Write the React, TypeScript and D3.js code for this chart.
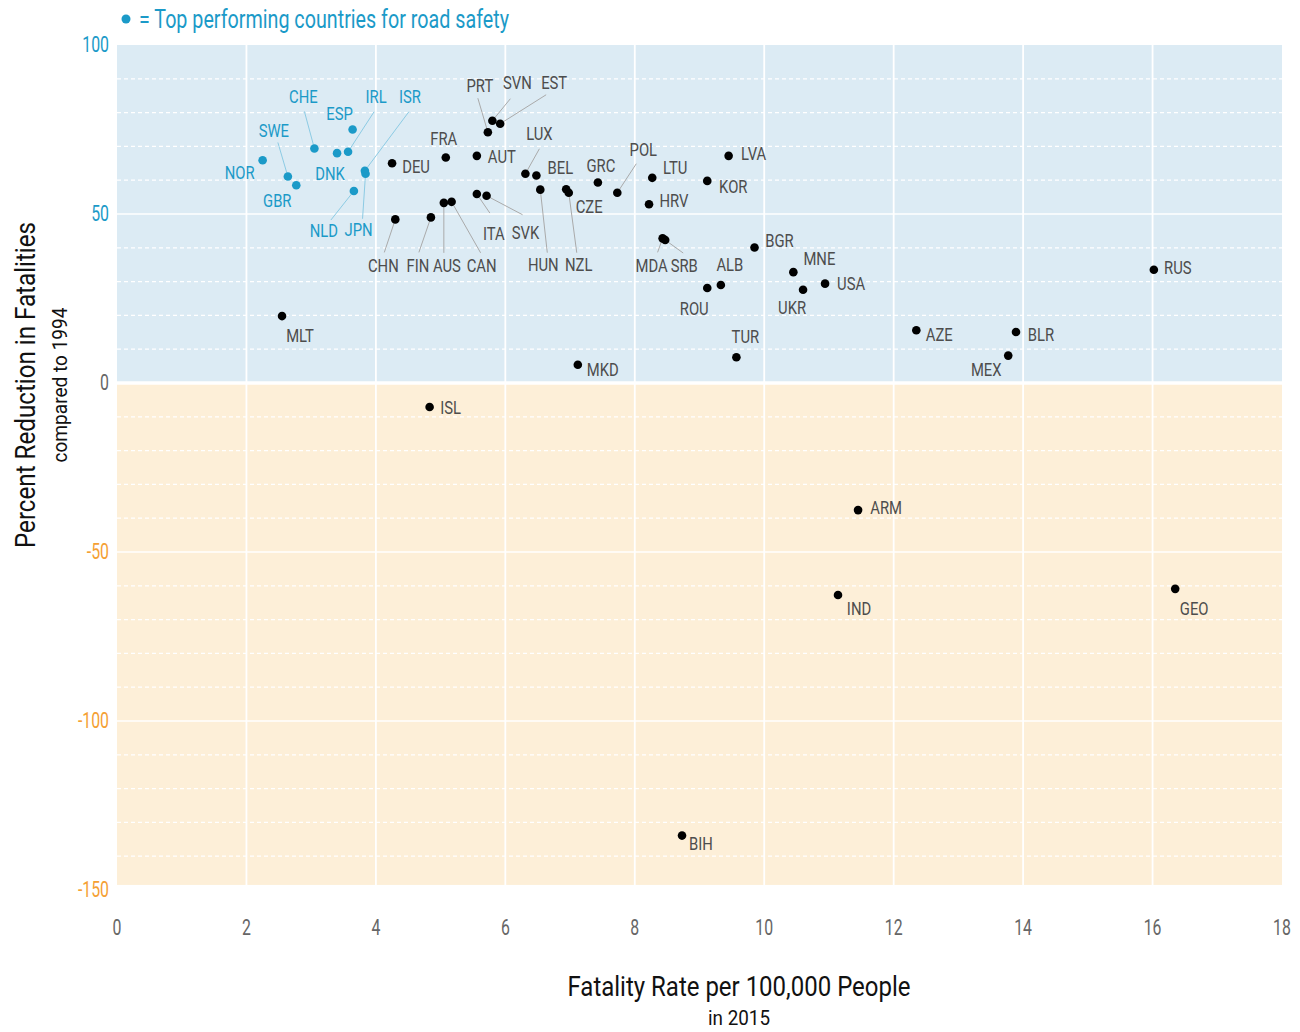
import React from 'react';
import * as d3 from 'd3';

// country codes, fatality rate per 100k (2015), % reduction in fatalities vs 1994
const countries = [
  'NOR', 'SWE', 'GBR', 'CHE', 'DNK', 'IRL', 'ESP', 'NLD', 'ISR', 'JPN',
  'PRT', 'SVN', 'EST', 'FRA', 'AUT', 'DEU', 'LUX', 'BEL', 'GRC', 'CZE',
  'HUN', 'NZL', 'POL', 'LTU', 'HRV', 'LVA', 'KOR', 'ITA', 'SVK', 'CHN',
  'FIN', 'AUS', 'CAN', 'MDA', 'SRB', 'BGR', 'ALB', 'ROU', 'MNE', 'UKR',
  'USA', 'TUR', 'MLT', 'MKD', 'ISL', 'RUS', 'AZE', 'BLR', 'MEX', 'ARM',
  'IND', 'GEO', 'BIH',
];
const fatalityRate = [
  2.25, 2.64, 2.77, 3.05, 3.4, 3.57, 3.64, 3.66, 3.83, 3.84,
  5.73, 5.8, 5.92, 5.08, 5.56, 4.25, 6.31, 6.48, 7.43, 6.94,
  6.54, 6.98, 7.73, 8.27, 8.22, 9.45, 9.12, 5.56, 5.71, 4.3,
  4.85, 5.05, 5.17, 8.43, 8.47, 9.85, 9.33, 9.12, 10.45, 10.6,
  10.94, 9.57, 2.55, 7.12, 4.83, 16.02, 12.35, 13.89, 13.77, 11.45,
  11.14, 16.35, 8.73,
];
const reduction = [
  65.9, 61.1, 58.5, 69.4, 68.0, 68.4, 75.0, 56.8, 62.8, 61.9,
  74.2, 77.6, 76.7, 66.7, 67.2, 65.0, 61.9, 61.4, 59.3, 57.3,
  57.2, 56.3, 56.3, 60.7, 52.9, 67.2, 59.8, 55.9, 55.4, 48.4,
  49.0, 53.3, 53.6, 42.8, 42.3, 40.1, 29.0, 28.1, 32.8, 27.6,
  29.4, 7.6, 19.8, 5.4, -7.1, 33.5, 15.6, 15.1, 8.1, -37.6,
  -62.7, -60.9, -133.9,
];
const topPerformers = ['NOR', 'SWE', 'GBR', 'CHE', 'DNK', 'IRL', 'ESP', 'NLD', 'ISR', 'JPN'];

const xTicks = [0, 2, 4, 6, 8, 10, 12, 14, 16, 18];
const yTicks = [100, 50, 0, -50, -100, -150];

// label placement: [label dx, label dy, leader end dx, leader end dy] in px from the dot
const labelPos: Record<string, number[]> = {
  NOR: [-23, 12], SWE: [-14, -46, -10, -34], GBR: [-19, 15], CHE: [-11, -52, -10, -37],
  ESP: [-13, -16], DNK: [-7, 20], IRL: [28, -55, 26, -40], ISR: [45, -74, 44, -59],
  NLD: [-30, 39, -23, 29], JPN: [-7, 56, -3, 45],
  PRT: [-8, -47, -10, -34], SVN: [25, -38, 18, -22], EST: [54, -41, 46, -29],
  FRA: [-2, -19], AUT: [25, 0], DEU: [24, 3], LUX: [14, -40, 14, -25], BEL: [24, -8],
  GRC: [3, -17], CZE: [23, 17], HUN: [3, 75, 7, 63], NZL: [10, 72, 8, 60],
  POL: [26, -43, 19, -29], LTU: [23, -11], HRV: [25, -4], LVA: [25, -3], KOR: [26, 5],
  ITA: [17, 39, 13, 19], SVK: [39, 37, 36, 19], CHN: [-12, 46, -11, 33],
  FIN: [-13, 48, -12, 35], AUS: [3, 62, 0, 50], CAN: [30, 63, 29, 51],
  MDA: [-11, 27, -5, 14], SRB: [19, 25, 18, 13], BGR: [25, -7], ALB: [9, -21],
  ROU: [-13, 20], MNE: [26, -14], UKR: [-11, 18], USA: [26, 0], TUR: [9, -21],
  MLT: [18, 19], MKD: [25, 5], ISL: [21, 0], RUS: [24, -2], AZE: [23, 4], BLR: [25, 2],
  MEX: [-22, 14], ARM: [28, -3], IND: [21, 13], GEO: [19, 19], BIH: [19, 8],
};

const FONT = 'Roboto, "Liberation Sans", sans-serif';
const BLUE = '#1b9ac8';
const ORANGE = '#f5a033';
const SX = 0.78; // squeeze to mimic the condensed face

// narrow text: scaled horizontally around its anchor
const NText = ({ x, y, sx = SX, children, ...rest }: any) => (
  <text transform={`translate(${x},${y}) scale(${sx},1)`} dominantBaseline="central" {...rest}>
    {children}
  </text>
);

export default function App() {
  const left = 117, right = 1282, top = 45;
  const x = d3.scaleLinear().domain([0, 18]).range([left, right]);
  const y = d3.scaleLinear().domain([100, 0]).range([top, 383]);
  const bottom = y(-148.5);

  const points = countries.map((c, i) => ({
    code: c,
    rate: fatalityRate[i],
    red: reduction[i],
    top: topPerformers.includes(c),
  }));

  const dashed = d3.range(-140, 100, 10).filter(v => v % 50 !== 0);
  const solid = [50, -50, -100];

  return (
    <svg width={1300} height={1032} style={{ position: 'absolute', left: 0, top: 0, display: 'block' }}
      fontFamily={FONT}>
      <rect x={left} y={top} width={right - left} height={y(0) - top} fill="#dcebf4" />
      <rect x={left} y={y(0)} width={right - left} height={bottom - y(0)} fill="#fdefd8" />

      {dashed.map(v => (
        <line key={'d' + v} x1={left} x2={right} y1={y(v)} y2={y(v)} stroke="#fff"
          strokeWidth={1.2} strokeDasharray="4,3" />
      ))}
      {solid.map(v => (
        <line key={'s' + v} x1={left} x2={right} y1={y(v)} y2={y(v)} stroke="#fff" strokeWidth={1.6} />
      ))}
      {xTicks.filter(t => t > 0 && t < 18).map(t => (
        <line key={'v' + t} x1={x(t)} x2={x(t)} y1={top} y2={bottom} stroke="#fff" strokeWidth={1.8} />
      ))}
      <line x1={left} x2={right} y1={y(0)} y2={y(0)} stroke="#fff" strokeWidth={3.5} />

      {yTicks.map(t => (
        <NText key={'yt' + t} x={109} y={y(t)} sx={0.72} textAnchor="end" fontSize={22}
          fill={t > 0 ? BLUE : t < 0 ? ORANGE : '#666'}>{t}</NText>
      ))}
      {xTicks.map(t => (
        <NText key={'xt' + t} x={x(t)} y={928} sx={0.72} textAnchor="middle" fontSize={22}
          fill="#666">{t}</NText>
      ))}

      {points.map(p => {
        const lp = labelPos[p.code];
        const px = x(p.rate), py = y(p.red);
        if (!lp || lp.length < 4) return null;
        const ex = lp[2], ey = lp[3];
        const len = Math.hypot(ex, ey);
        return (
          <line key={'l' + p.code} x1={px + ex / len * 4} y1={py + ey / len * 4} x2={px + ex} y2={py + ey}
            stroke={p.top ? '#8ccbe4' : '#aaa'} strokeWidth={1} />
        );
      })}
      {points.map(p => (
        <circle key={'c' + p.code} cx={x(p.rate)} cy={y(p.red)} r={4.3} fill={p.top ? BLUE : '#000'} />
      ))}
      {points.map(p => {
        const lp = labelPos[p.code];
        return (
          <NText key={'t' + p.code} x={x(p.rate) + lp[0]} y={y(p.red) + lp[1]} textAnchor="middle"
            fontSize={19} fill={p.top ? BLUE : '#4d4d4d'}>{p.code}</NText>
        );
      })}

      <circle cx={126} cy={19} r={4.5} fill={BLUE} />
      <text x={139} y={19} dominantBaseline="central" fontSize={25} fill={BLUE}
        textLength={370} lengthAdjust="spacingAndGlyphs">
        = Top performing countries for road safety
      </text>

      <text transform={`translate(25,385) rotate(-90)`} textAnchor="middle" dominantBaseline="central"
        fontSize={28} fill="#111" textLength={326} lengthAdjust="spacingAndGlyphs">
        Percent Reduction in Fatalities
      </text>
      <text transform={`translate(60,385) rotate(-90)`} textAnchor="middle" dominantBaseline="central"
        fontSize={20} fill="#111" textLength={155} lengthAdjust="spacingAndGlyphs">
        compared to 1994
      </text>

      <text x={739} y={986} textAnchor="middle" dominantBaseline="central" fontSize={28} fill="#111"
        textLength={343} lengthAdjust="spacingAndGlyphs">
        Fatality Rate per 100,000 People
      </text>
      <text x={739} y={1018} textAnchor="middle" dominantBaseline="central" fontSize={20} fill="#111"
        textLength={62} lengthAdjust="spacingAndGlyphs">
        in 2015
      </text>
    </svg>
  );
}
